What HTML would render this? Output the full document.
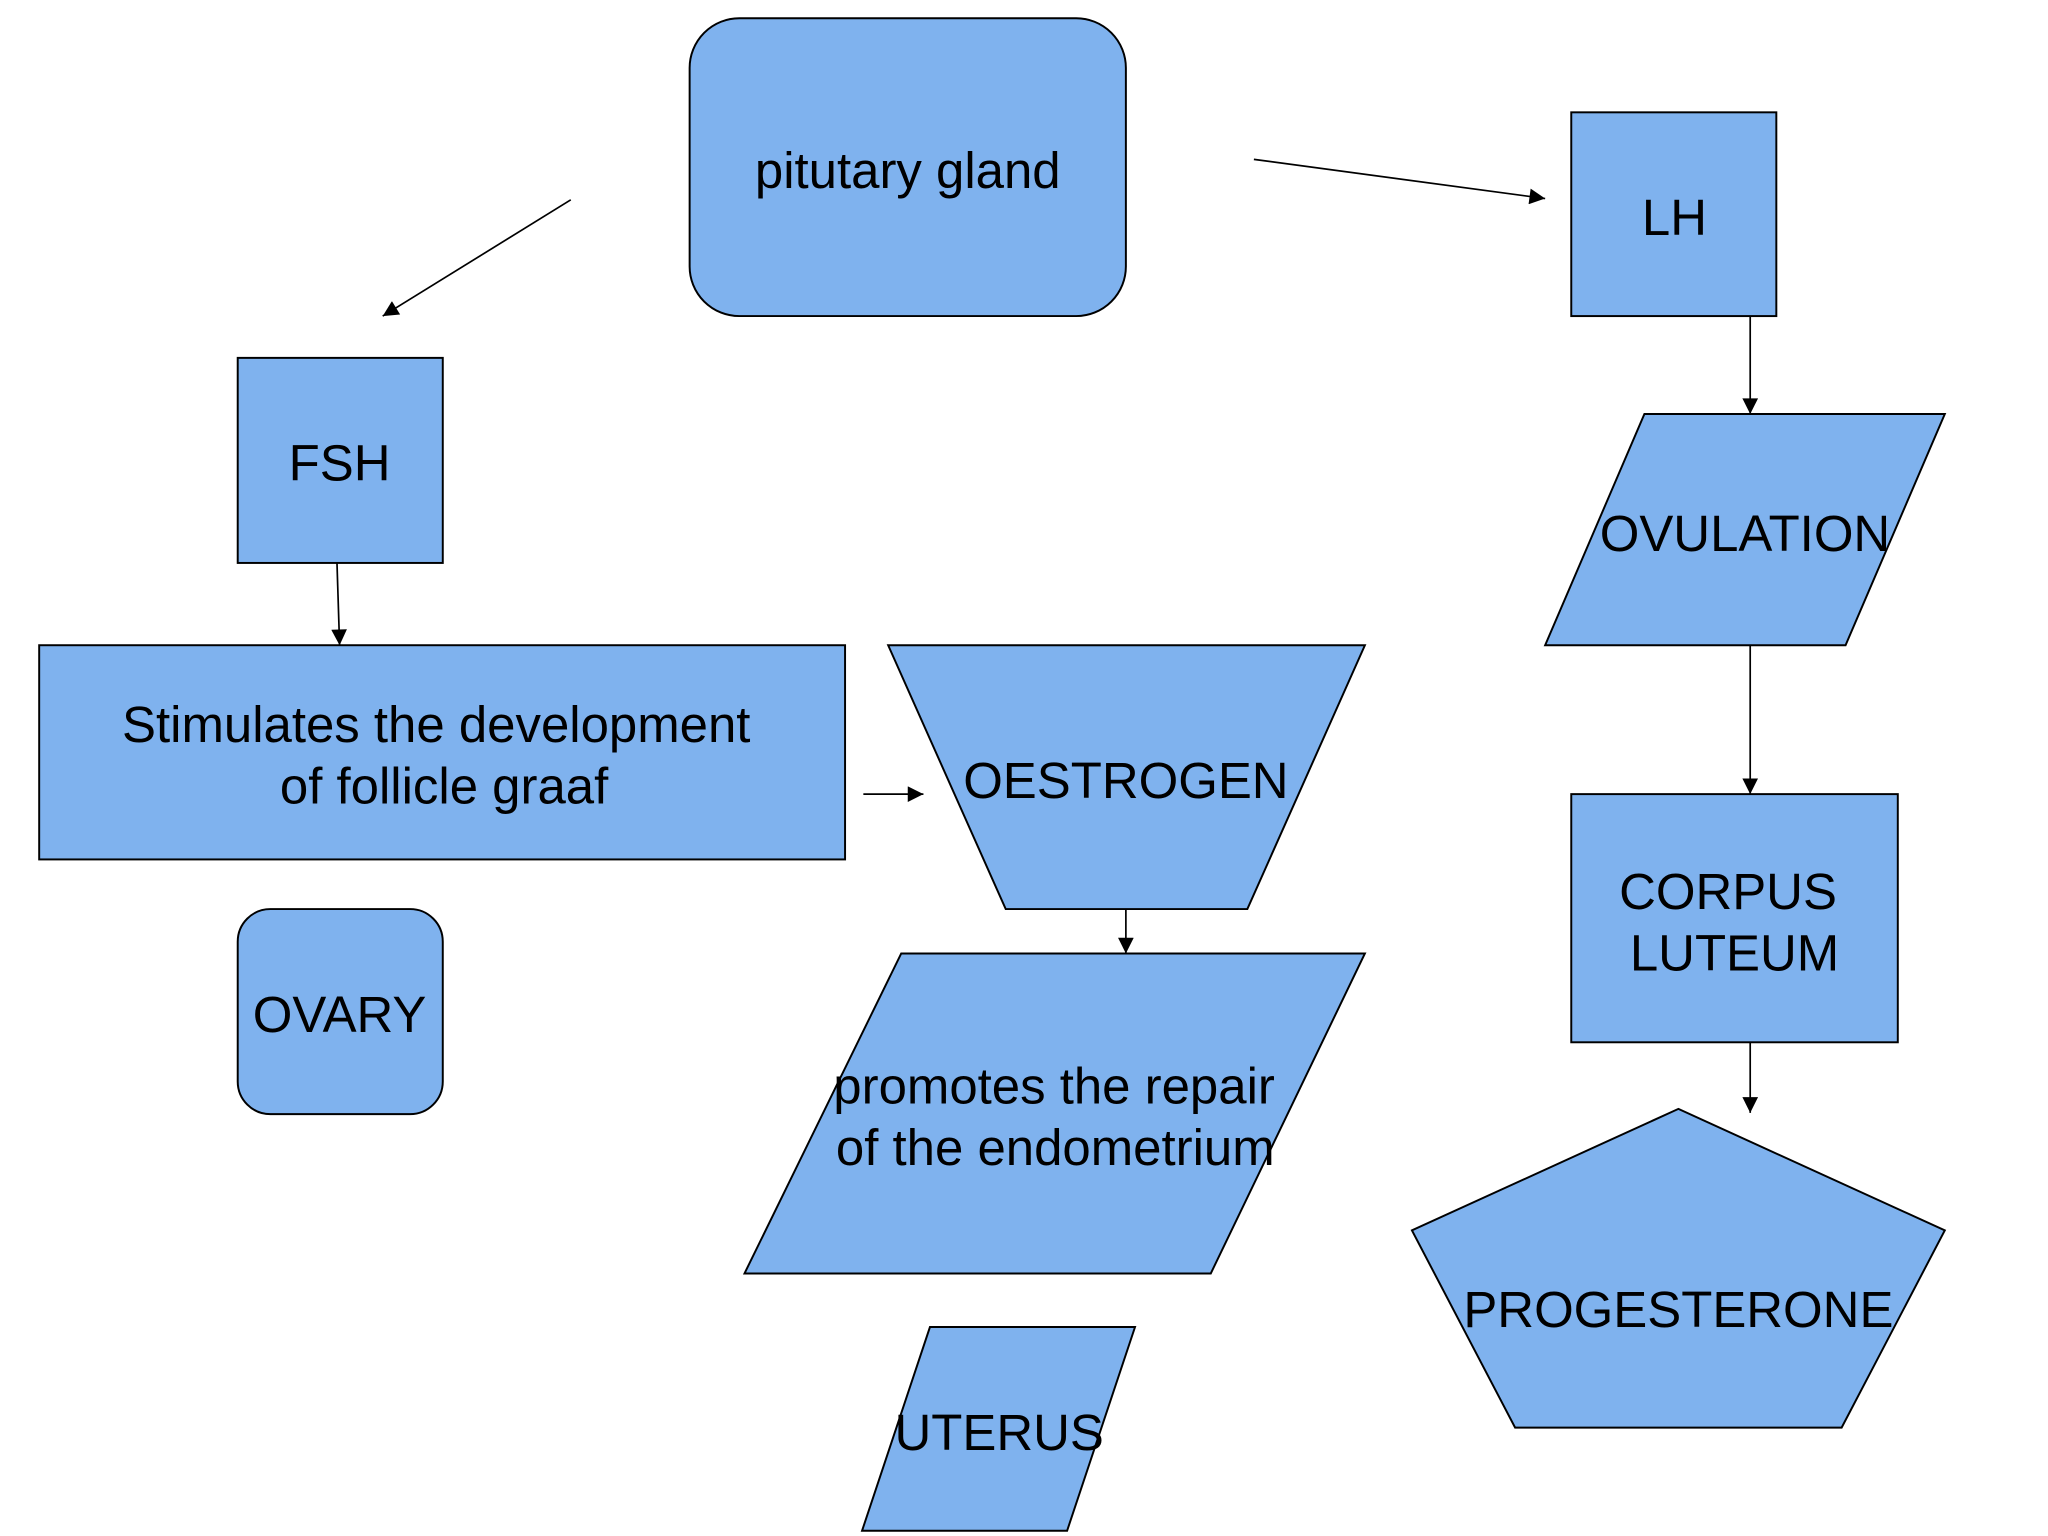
<!DOCTYPE html>
<html><head><meta charset="utf-8"><style>
html,body{margin:0;padding:0;background:#fff;}
svg{display:block}
text{font-family:"Liberation Sans",sans-serif;font-size:39px;fill:#000}
</style></head><body>
<svg width="2048" height="1536" viewBox="0 0 1568 1176" xmlns="http://www.w3.org/2000/svg">
<defs>
<marker id="b" viewBox="0 0 10 10" markerWidth="14" markerHeight="12" refX="10" refY="5" orient="auto" markerUnits="userSpaceOnUse"><path d="M0,0 L10,5 L0,10 z" fill="#000"/></marker></defs>
<rect width="1568" height="1176" fill="#fff"/>
<g fill="#7fb2ee" stroke="#000" stroke-width="1.5">
<rect x="528" y="14" width="334" height="228" rx="38"/>
<rect x="1203" y="86" width="157" height="156"/>
<rect x="182" y="274" width="157" height="157"/>
<rect x="30" y="494" width="617" height="164"/>
<polygon points="680,494 1045,494 955,696 770,696"/>
<polygon points="690,730 1045,730 927,975 570,975"/>
<rect x="182" y="696" width="157" height="157" rx="25"/>
<polygon points="712,1016 869,1016 817,1172 660,1172"/>
<polygon points="1259,317 1489,317 1413,494 1183,494"/>
<rect x="1203" y="608" width="250" height="190"/>
<polygon points="1285,849 1489,942 1410,1093 1160,1093 1081,942"/>
</g>
<g stroke="#000" stroke-width="1.3" marker-end="url(#b)">
<line x1="437" y1="153" x2="293" y2="242"/>
<line x1="960" y1="122" x2="1183" y2="152"/>
<line x1="258" y1="431" x2="260" y2="494"/>
<line x1="661" y1="608" x2="707" y2="608"/>
<line x1="862" y1="696" x2="862" y2="730"/>
<line x1="1340" y1="242" x2="1340" y2="317"/>
<line x1="1340" y1="494" x2="1340" y2="608"/>
<line x1="1340" y1="798" x2="1340" y2="852"/>
</g>
<g text-anchor="middle">
<text x="695" y="144">pitutary gland</text>
<text x="1282" y="180">LH</text>
<text x="260" y="368">FSH</text>
<text x="334" y="568">Stimulates the development</text>
<text x="340" y="615">of follicle graaf</text>
<text x="862" y="611">OESTROGEN</text>
<text x="260" y="790">OVARY</text>
<text x="765" y="1110">UTERUS</text>
<text x="1336" y="422">OVULATION</text>
<text x="1323" y="696">CORPUS</text>
<text x="1328" y="743">LUTEUM</text>
<text x="1285" y="1016">PROGESTERONE</text>
</g>
<text x="638" y="845">promotes the repair</text>
<text x="640" y="892">of the endometrium</text>
</svg>
</body></html>
